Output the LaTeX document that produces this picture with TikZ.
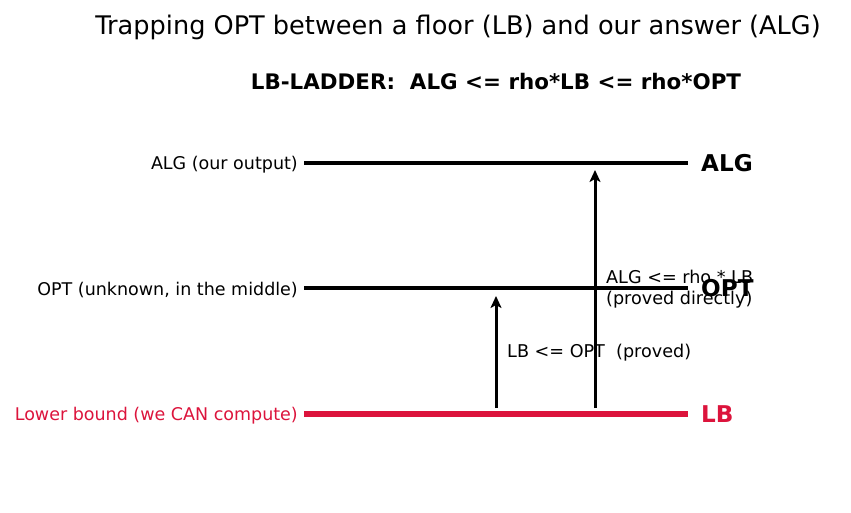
\documentclass[tikz,border=0pt]{standalone}
\usepackage{fontspec}
\setmainfont{DejaVu Sans}
\usetikzlibrary{arrows.meta}
\definecolor{crim}{RGB}{220,20,60}
\tikzset{
  level/.style={line width=4pt},
  lblL/.style={anchor=east, inner sep=0pt, font=\fontsize{17.5}{21}\selectfont},
  lblR/.style={anchor=west, inner sep=0pt, font=\bfseries\fontsize{23.1}{27}\selectfont},
  note/.style={anchor=west, inner sep=0pt, align=left, font=\fontsize{17.6}{20.5}\selectfont},
  up/.style={line width=3pt, -{Stealth[length=12pt,width=11pt,inset=3pt]}},
}
\begin{document}
\begin{tikzpicture}[x=1pt,y=-1pt]
\useasboundingbox (0,0) rectangle (851,512);
\node[inner sep=0pt, font=\fontsize{25.6}{30}\selectfont] (title) at (458,27.5) {Trapping OPT between a floor (LB) and our answer (ALG)};
\node[inner sep=0pt, font=\bfseries\fontsize{21.4}{25}\selectfont] (sub) at (496,82) {LB-LADDER:\ \ ALG <= rho*LB <= rho*OPT};

\coordinate (a0) at (304,163); \coordinate (a1) at (688,163);
\coordinate (o0) at (304,288); \coordinate (o1) at (688,288);
\coordinate (l0) at (304,414); \coordinate (l1) at (688,414);
\draw[level] (a0) -- (a1);
\draw[level] (o0) -- (o1);
\draw[level, crim, line width=6pt] (l0) -- (l1);

\node[lblL] (la) at (298,164.5) {ALG (our output)};
\node[lblL] (lo) at (298,289.5) {OPT (unknown, in the middle)};
\node[lblL, text=crim] (ll) at (298,415.5) {Lower bound (we CAN compute)};

\node[lblR] (ra) at (701,163.5) {ALG};
\node[lblR] (ro) at (701,288.5) {OPT};
\node[lblR, text=crim] (rl) at (701,414.5) {LB};

\coordinate (s1) at (496,408); \coordinate (t1) at (496,296);
\coordinate (s2) at (595,408); \coordinate (t2) at (595,170);
\draw[up] (s1) -- (t1);
\draw[up] (s2) -- (t2);

\node[note] (n1) at (507,352.5) {LB <= OPT\ \ (proved)};
\node[note] (n2) at (606,289) {ALG <= rho * LB\\(proved directly)};
\end{tikzpicture}
\end{document}
